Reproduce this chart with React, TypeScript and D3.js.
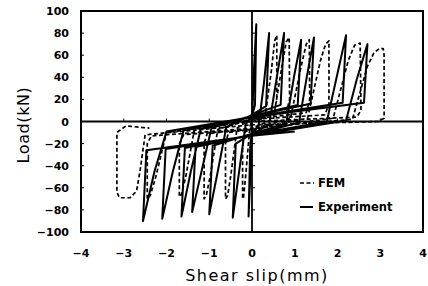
import React from 'react'
import * as d3 from 'd3'

// shear slip (mm), load (kN), one row per cycle
const experiment: [number, number][] = [
  [0, 0],
  [0.05, 50], [0.1, 88], [0.07, 15], [0.0, 5], [-0.03, -40], [-0.08, -86], [-0.04, -20], [0.0, -10],
  [0.15, -5], [0.28, 35], [0.4, 80], [0.33, 14], [0.0, 6], [-0.15, -3], [-0.3, -45], [-0.45, -87], [-0.38, -20], [0.0, -11],
  [0.4, -3], [0.58, 40], [0.75, 80], [0.67, 15], [0.0, 6], [-0.6, -5], [-0.8, -45], [-1.0, -84], [-0.92, -22], [0.0, -11],
  [0.8, -2], [0.98, 40], [1.15, 74], [1.07, 15], [0.0, 5], [-0.95, -6], [-1.18, -45], [-1.4, -82], [-1.32, -23], [0.0, -12],
  [1.1, -1], [1.28, 40], [1.45, 76], [1.37, 16], [0.0, 5], [-1.2, -7], [-1.43, -45], [-1.65, -86], [-1.57, -24], [0.0, -12],
  [1.75, 0], [1.98, 40], [2.2, 78], [2.12, 17], [0.0, 4], [-1.6, -8], [-1.85, -45], [-2.1, -88], [-2.02, -25], [0.0, -13],
  [2.2, 1], [2.45, 38], [2.7, 70], [2.62, 17], [0.0, 4], [-2.0, -9], [-2.28, -45], [-2.55, -90], [-2.47, -26], [0.0, -13], [1.0, -9]
]

const fem: [number, number][] = [
  [0, 0],
  [0.3, 3], [0.45, 45], [0.53, 73], [0.58, 78], [0.58, 20], [0.52, 8], [0, 2], [-0.05, -5], [-0.15, -50], [-0.2, -69], [-0.22, -70], [-0.22, -25], [-0.18, -10], [0, -6],
  [0.5, 2], [0.7, 50], [0.8, 72], [0.87, 76], [0.88, 20], [0.8, 8], [0, 3], [-0.35, -6], [-0.5, -50], [-0.57, -67], [-0.62, -70], [-0.62, -20], [-0.55, -10], [0, -7],
  [0.9, 3], [1.15, 50], [1.27, 70], [1.34, 74], [1.35, 20], [1.27, 8], [0, 2], [-0.8, -7], [-0.98, -50], [-1.07, -67], [-1.12, -70], [-1.12, -20], [-1.05, -11], [0, -7],
  [1.3, 3], [1.6, 55], [1.72, 70], [1.8, 73], [1.8, 15], [1.7, 6], [0, 2], [-1.35, -8], [-1.55, -50], [-1.65, -66], [-1.7, -68], [-1.7, -20], [-1.6, -12], [0, -7],
  [1.9, 3], [2.25, 55], [2.4, 69], [2.53, 71], [2.55, 10], [2.45, 4], [0, 0], [-2.0, -10], [-2.25, -50], [-2.38, -67], [-2.45, -70], [-2.45, -20], [-2.35, -13], [0, -6],
  [2.35, 2], [2.7, 50], [2.85, 62], [2.98, 66], [3.07, 66], [3.09, 60], [3.09, 3], [2.95, 0], [0, -3],
  [-2.5, -12], [-2.62, -45], [-2.7, -63], [-2.85, -69], [-3.1, -69], [-3.16, -64], [-3.16, -10], [-2.95, -4], [-2.4, -6]
]

const xTicks = [-4, -3, -2, -1, 0, 1, 2, 3, 4]
const yTicks = [-100, -80, -60, -40, -20, 0, 20, 40, 60, 80, 100]
const legendLabels = ['FEM', 'Experiment']

export default function App () {
  const width = 428
  const height = 286
  const x = d3.scaleLinear().domain([-4, 4]).range([81, 423])
  const y = d3.scaleLinear().domain([-100, 100]).range([232, 11])
  const line = d3.line<[number, number]>()
    .x(d => x(d[0]))
    .y(d => y(d[1]))
  const tickFont = { fontFamily: 'DejaVu Sans', fontWeight: 'bold', fontSize: 11 } as const

  return (
    <svg width={width} height={height} style={{ position: 'absolute', left: 0, top: 0, background: '#fff' }}>
      <path d={line(experiment) || ''} fill='none' stroke='#000' strokeWidth={2} strokeLinejoin='round' />
      <path d={line(fem) || ''} fill='none' stroke='#000' strokeWidth={1.7} strokeLinejoin='round' strokeDasharray='4 2.5' />

      {/* frame and the axes through the origin */}
      <rect x={x(-4)} y={y(100)} width={x(4) - x(-4)} height={y(-100) - y(100)} fill='none' stroke='#000' strokeWidth={2} />
      <line x1={x(-4)} x2={x(4)} y1={y(0)} y2={y(0)} stroke='#000' strokeWidth={1.8} />
      <line x1={x(0)} x2={x(0)} y1={y(100)} y2={y(-100)} stroke='#000' strokeWidth={1.8} />
      {xTicks.map(v => (
        <line key={'xt' + v} x1={x(v)} x2={x(v)} y1={y(0)} y2={y(0) - 3} stroke='#000' />
      ))}
      {yTicks.map(v => (
        <g key={'yt' + v}>
          <line x1={x(0)} x2={x(0) + 3} y1={y(v)} y2={y(v)} stroke='#000' />
          <line x1={x(-4)} x2={x(-4) + 3} y1={y(v)} y2={y(v)} stroke='#000' />
        </g>
      ))}

      {yTicks.map(v => (
        <text key={'yl' + v} x={69} y={y(v) + 4} textAnchor='end' {...tickFont}>
          {v < 0 ? '\u2212' + Math.abs(v) : v}
        </text>
      ))}
      {xTicks.map(v => (
        <text key={'xl' + v} x={x(v)} y={257} textAnchor='middle' {...tickFont}>
          {v < 0 ? '\u2212' + Math.abs(v) : v}
        </text>
      ))}

      <text x={257} y={281} textAnchor='middle' fontFamily='DejaVu Sans' fontSize={16} letterSpacing={1.5}>Shear slip(mm)</text>
      <text transform='translate(29,125) rotate(-90)' textAnchor='middle' fontFamily='DejaVu Sans' fontSize={16} letterSpacing={0.6}>Load(kN)</text>

      <g>
        <line x1={300} x2={314} y1={183} y2={183} stroke='#000' strokeWidth={1.6} strokeDasharray='4 2.5' />
        <text x={318} y={187} {...tickFont} fontSize={11.5}>{legendLabels[0]}</text>
        <line x1={300} x2={313} y1={207} y2={207} stroke='#000' strokeWidth={2} />
        <text x={318} y={211} {...tickFont} fontSize={11.5}>{legendLabels[1]}</text>
      </g>
    </svg>
  )
}
